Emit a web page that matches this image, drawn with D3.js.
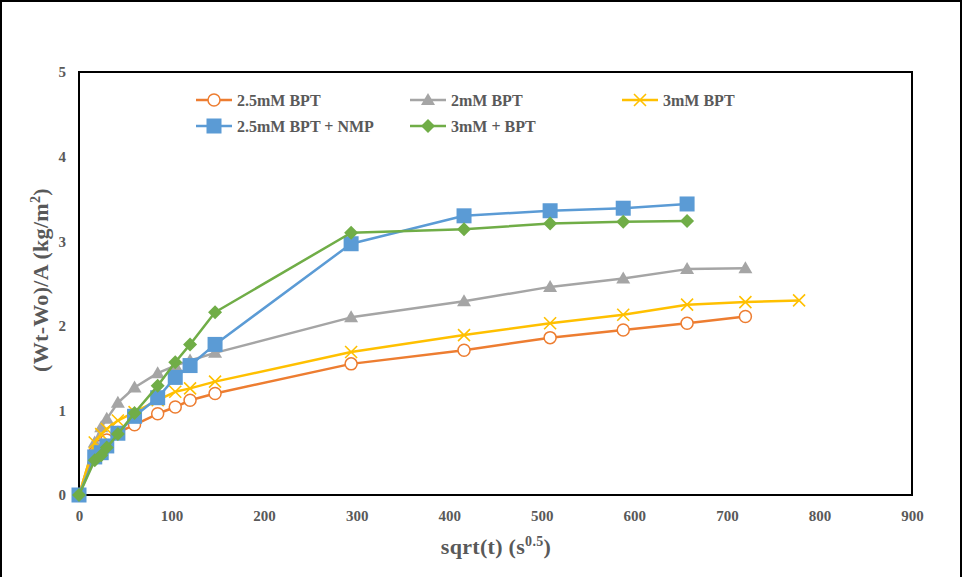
<!DOCTYPE html>
<html>
<head>
<meta charset="utf-8">
<script src="https://cdn.jsdelivr.net/npm/d3@7"></script>
<style>
  html, body { margin: 0; padding: 0; background: #fff; }
  svg { display: block; }
  text { font-family: "Liberation Serif", "Times New Roman", serif; font-weight: bold; fill: #595959; }
</style>
</head>
<body>
<svg id="chart" width="963" height="577"></svg>
<script>
// sqrt(t) sampling points (s^0.5)
const xLong  = [0, 17, 24, 30, 42, 60, 85, 104, 120, 147, 294, 416, 509, 588, 657, 720, 778];

// Mass gain per area (kg/m2) for each formulation
const bpt25    = [0, 0.50, 0.58, 0.65, 0.74, 0.83, 0.96, 1.04, 1.12, 1.20, 1.55, 1.71, 1.86, 1.95, 2.03, 2.11];
const bpt2     = [0, 0.62, 0.80, 0.90, 1.09, 1.27, 1.44, 1.53, 1.59, 1.68, 2.10, 2.29, 2.46, 2.56, 2.67, 2.68];
const bpt3     = [0, 0.62, 0.72, 0.78, 0.88, 0.98, 1.12, 1.22, 1.26, 1.34, 1.69, 1.89, 2.03, 2.13, 2.25, 2.28, 2.30];
const bpt25nmp = [0, 0.45, 0.50, 0.58, 0.73, 0.93, 1.15, 1.39, 1.53, 1.78, 2.97, 3.30, 3.36, 3.39, 3.44];
const bpt3b    = [0, 0.41, 0.47, 0.56, 0.72, 0.97, 1.29, 1.57, 1.78, 2.16, 3.10, 3.14, 3.21, 3.23, 3.24];

const seriesNames = ["2.5mM BPT", "2mM BPT", "3mM BPT", "2.5mM BPT + NMP", "3mM + BPT"];
const seriesColors = ["#ED7D31", "#A5A5A5", "#FFC000", "#5B9BD5", "#70AD47"];
const seriesMarkers = ["circle", "triangle", "cross", "square", "diamond"];
const seriesValues = [bpt25, bpt2, bpt3, bpt25nmp, bpt3b];

const xTicks = [0, 100, 200, 300, 400, 500, 600, 700, 800, 900];
const yTicks = [0, 1, 2, 3, 4, 5];

const svg = d3.select("#chart");

// outer chart border
svg.append("rect")
  .attr("x", 1).attr("y", 1).attr("width", 960).attr("height", 620)
  .attr("fill", "none").attr("stroke", "#000").attr("stroke-width", 2);

const x = d3.scaleLinear().domain([0, 900]).range([79, 912]);
const y = d3.scaleLinear().domain([0, 5]).range([495, 72]);

// plot frame
svg.append("rect")
  .attr("x", x(0)).attr("y", y(5))
  .attr("width", x(900) - x(0)).attr("height", y(0) - y(5))
  .attr("fill", "none").attr("stroke", "#000").attr("stroke-width", 2);

// axes (labels only, frame drawn above)
const xAxis = svg.append("g")
  .attr("transform", `translate(0,${y(0)})`)
  .call(d3.axisBottom(x).tickValues(xTicks).tickSize(0).tickPadding(15).tickFormat(d3.format("d")));
xAxis.select(".domain").remove();
xAxis.selectAll("text").attr("font-size", 15).style("font-family", "Liberation Serif").style("font-weight", "bold").attr("fill", "#595959");

const yAxis = svg.append("g")
  .attr("transform", `translate(${x(0)},0)`)
  .call(d3.axisLeft(y).tickValues(yTicks).tickSize(0).tickPadding(13).tickFormat(d3.format("d")));
yAxis.select(".domain").remove();
yAxis.selectAll("text").attr("font-size", 15).style("font-family", "Liberation Serif").style("font-weight", "bold").attr("fill", "#595959");

// axis titles
const xt = svg.append("text")
  .attr("x", 496).attr("y", 554).attr("text-anchor", "middle").attr("font-size", 22)
  .attr("letter-spacing", 0.3);
xt.append("tspan").text("sqrt(t) (s");
xt.append("tspan").attr("dy", -8).attr("font-size", 14).text("0.5");
xt.append("tspan").attr("dy", 8).text(")");

const yt = svg.append("text")
  .attr("transform", "translate(48,280) rotate(-90)")
  .attr("text-anchor", "middle").attr("font-size", 22).attr("letter-spacing", 0.3);
yt.append("tspan").text("(Wt-Wo)/A  (kg/m");
yt.append("tspan").attr("dy", -8).attr("font-size", 14).text("2");
yt.append("tspan").attr("dy", 8).text(")");

// marker drawing helper
function drawMarker(g, type, cx, cy, color) {
  if (type === "circle") {
    g.append("circle").attr("cx", cx).attr("cy", cy).attr("r", 6)
      .attr("fill", "#fff").attr("stroke", color).attr("stroke-width", 1.5);
  } else if (type === "triangle") {
    g.append("path").attr("d", `M${cx},${cy - 7}L${cx + 7},${cy + 5}L${cx - 7},${cy + 5}Z`)
      .attr("fill", color);
  } else if (type === "cross") {
    g.append("path").attr("d", `M${cx - 6},${cy - 6}L${cx + 6},${cy + 6}M${cx - 6},${cy + 6}L${cx + 6},${cy - 6}`)
      .attr("stroke", color).attr("stroke-width", 1.6).attr("fill", "none");
  } else if (type === "square") {
    g.append("rect").attr("x", cx - 7.5).attr("y", cy - 7.5).attr("width", 15).attr("height", 15)
      .attr("fill", color);
  } else if (type === "diamond") {
    g.append("path").attr("d", `M${cx},${cy - 7}L${cx + 7},${cy}L${cx},${cy + 7}L${cx - 7},${cy}Z`)
      .attr("fill", color);
  }
}

const line = d3.line().x(d => x(d[0])).y(d => y(d[1]));

seriesValues.forEach((vals, i) => {
  const pts = vals.map((v, j) => [xLong[j], v]);
  const g = svg.append("g");
  g.append("path").datum(pts).attr("d", line)
    .attr("fill", "none").attr("stroke", seriesColors[i]).attr("stroke-width", 2.5)
    .attr("stroke-linejoin", "round");
  pts.forEach(p => drawMarker(g, seriesMarkers[i], x(p[0]), y(p[1]), seriesColors[i]));
});

// legend
const legendPos = [[196, 100], [410, 100], [622, 100], [196, 126], [410, 126]];
seriesNames.forEach((name, i) => {
  const [lx, ly] = legendPos[i];
  const g = svg.append("g");
  g.append("line").attr("x1", lx).attr("x2", lx + 36).attr("y1", ly).attr("y2", ly)
    .attr("stroke", seriesColors[i]).attr("stroke-width", 2.5);
  drawMarker(g, seriesMarkers[i], lx + 18, ly, seriesColors[i]);
  g.append("text").attr("x", lx + 41).attr("y", ly + 5.5).attr("font-size", 16).text(name);
});
</script>
</body>
</html>
